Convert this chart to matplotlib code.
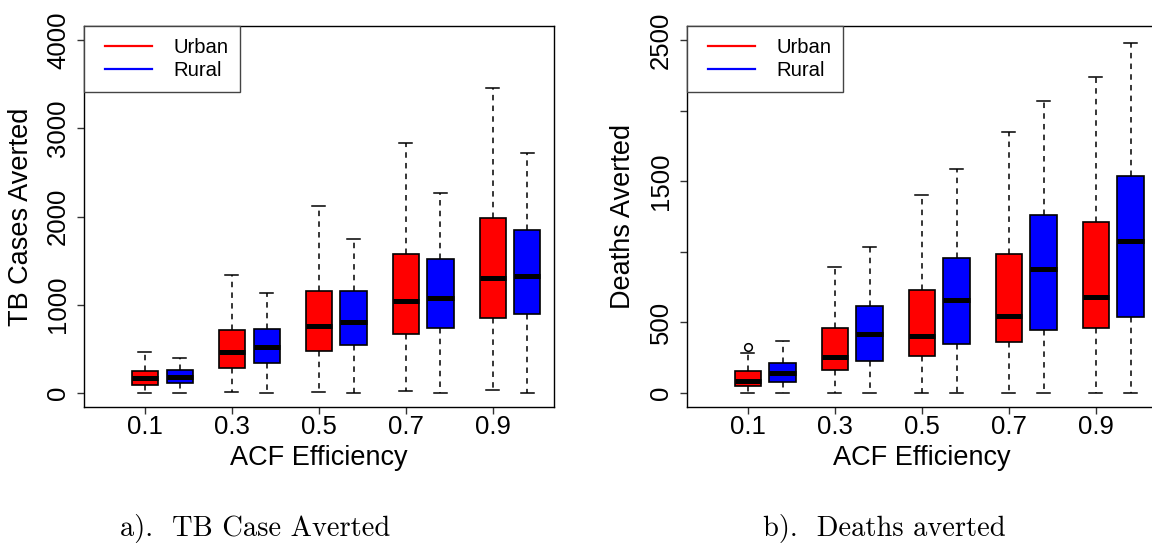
import matplotlib.pyplot as plt
from matplotlib.lines import Line2D
from matplotlib.legend_handler import HandlerLine2D

plt.rcParams['font.family'] = ['Liberation Sans', 'DejaVu Sans']

# ACF efficiency levels (x axis)
efficiency = [0.1, 0.3, 0.5, 0.7, 0.9]
tick_labels = ["0.1", "0.3", "0.5", "0.7", "0.9"]

# TB cases averted -- five-number summaries per efficiency level
cases_urban_lo = [0, 11, 12, 24, 31]
cases_urban_q1 = [91, 284, 475, 664, 845]
cases_urban_med = [167, 465, 762, 1041, 1305]
cases_urban_q3 = [246, 711, 1159, 1580, 1984]
cases_urban_hi = [461, 1336, 2118, 2829, 3458]

cases_rural_lo = [0, 0, 0, 0, 0]
cases_rural_q1 = [110, 340, 546, 735, 900]
cases_rural_med = [178, 515, 805, 1073, 1324]
cases_rural_q3 = [257, 730, 1151, 1521, 1843]
cases_rural_hi = [401, 1128, 1741, 2267, 2719]

# deaths averted
deaths_urban_lo = [0, 0, 0, 0, 0]
deaths_urban_q1 = [52, 162, 265, 363, 462]
deaths_urban_med = [82, 253, 405, 545, 678]
deaths_urban_q3 = [155, 459, 732, 982, 1208]
deaths_urban_hi = [280, 891, 1400, 1847, 2240]
deaths_urban_out = [[322], [], [], [], []]

deaths_rural_lo = [0, 0, 0, 0, 0]
deaths_rural_q1 = [80, 228, 349, 449, 540]
deaths_rural_med = [143, 420, 661, 879, 1078]
deaths_rural_q3 = [215, 616, 958, 1260, 1535]
deaths_rural_hi = [371, 1031, 1589, 2067, 2477]

URBAN = '#ff0000'
RURAL = '#0000ff'
OFFSET = 0.08      # rural box sits to the right of the urban one
BOX_W = 0.06


def make_stats(lo, q1, med, q3, hi, out=None):
    stats = []
    for i in range(len(med)):
        stats.append(dict(whislo=lo[i], q1=q1[i], med=med[i], q3=q3[i],
                          whishi=hi[i], fliers=out[i] if out else []))
    return stats


def draw_boxes(ax, stats, positions, color):
    ax.bxp(stats, positions=positions, widths=BOX_W, capwidths=BOX_W / 2,
           patch_artist=True, manage_ticks=False,
           boxprops=dict(facecolor=color, edgecolor='black', linewidth=1.2),
           medianprops=dict(color='black', linewidth=3.6, solid_capstyle='butt'),
           whiskerprops=dict(color='black', linewidth=1.1,
                             linestyle=(0, (3.6, 3.4))),
           capprops=dict(color='black', linewidth=1.1),
           flierprops=dict(marker='o', markerfacecolor='none',
                           markeredgecolor='black', markersize=5.5,
                           markeredgewidth=1.1))


def style_axes(ax, ylim, yticks, ylabels, ylabel):
    ax.set_xlim(-0.04, 1.04)
    span = ylim[1] - ylim[0]
    ax.set_ylim(ylim[0] - 0.04 * span, ylim[1] + 0.04 * span)
    ax.set_xticks(efficiency)
    ax.set_xticklabels(tick_labels)
    ax.set_yticks(yticks)
    ax.set_yticklabels(ylabels)
    ax.tick_params(direction='out', length=5, width=1, labelsize=18.5,
                   color='#333333')
    ax.tick_params(axis='x', pad=1)
    ax.tick_params(axis='y', pad=5)
    plt.setp(ax.get_yticklabels(), rotation=90, va='center')
    for sp in ax.spines.values():
        sp.set_linewidth(1.0)
    ax.set_xlabel("ACF Efficiency", fontsize=19.5, labelpad=4)
    ax.set_ylabel(ylabel, fontsize=19.5, labelpad=9)

    # legend lines inset from the handle box via marker_pad
    handles = [Line2D([], [], color=URBAN, lw=1.6),
               Line2D([], [], color=RURAL, lw=1.6)]
    hmap = {h: HandlerLine2D(numpoints=2, marker_pad=0.44) for h in handles}
    leg = ax.legend(handles, ["Urban", "Rural"], loc='upper left',
                    borderaxespad=0, fontsize=14.6, fancybox=False,
                    handlelength=3.2, handletextpad=0.6, borderpad=0.6,
                    labelspacing=0.2, handler_map=hmap, framealpha=1)
    leg.get_frame().set_edgecolor('#444444')
    leg.get_frame().set_linewidth(1.0)


fig = plt.figure(figsize=(11.52, 5.44), dpi=100)
ax1 = fig.add_axes([0.0729, 0.2518, 0.4076, 0.7004])
ax2 = fig.add_axes([0.5962, 0.2518, 0.4078, 0.7004])

urban_pos = efficiency
rural_pos = [e + OFFSET for e in efficiency]

# a) TB cases averted
draw_boxes(ax1, make_stats(cases_urban_lo, cases_urban_q1, cases_urban_med,
                           cases_urban_q3, cases_urban_hi), urban_pos, URBAN)
draw_boxes(ax1, make_stats(cases_rural_lo, cases_rural_q1, cases_rural_med,
                           cases_rural_q3, cases_rural_hi), rural_pos, RURAL)
style_axes(ax1, (0, 4000), [0, 1000, 2000, 3000, 4000],
           ["0", "1000", "2000", "3000", "4000"], "TB Cases Averted")

# b) deaths averted
draw_boxes(ax2, make_stats(deaths_urban_lo, deaths_urban_q1, deaths_urban_med,
                           deaths_urban_q3, deaths_urban_hi, deaths_urban_out),
           urban_pos, URBAN)
draw_boxes(ax2, make_stats(deaths_rural_lo, deaths_rural_q1, deaths_rural_med,
                           deaths_rural_q3, deaths_rural_hi), rural_pos, RURAL)
style_axes(ax2, (0, 2500), [0, 500, 1000, 1500, 2000, 2500],
           ["0", "500", "", "1500", "", "2500"], "Deaths Averted")

# sub-figure captions
fig.text(255 / 1152, 8 / 544, "a).  TB Case Averted", family='cmr10',
         fontsize=20.5, ha='center', va='baseline')
fig.text(884 / 1152, 8 / 544, "b).  Deaths averted", family='cmr10',
         fontsize=20.5, ha='center', va='baseline')

fig.savefig('out.png', dpi=100)
